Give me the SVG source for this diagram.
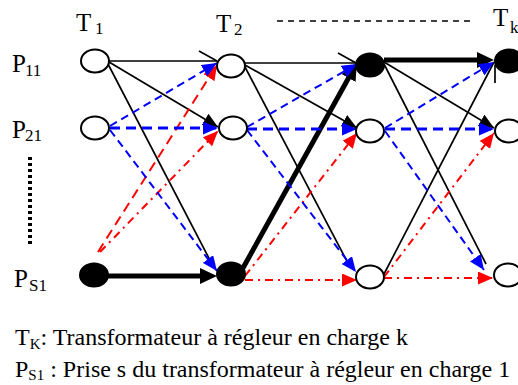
<svg xmlns="http://www.w3.org/2000/svg" width="518" height="385" viewBox="0 0 518 385">
<style>
text{font-family:"Liberation Serif","Times New Roman",serif;fill:#000}
.lbl{font-size:24px}
.big{font-size:25px}
.sub{font-size:15px}
.sub2{font-size:17px}
.node{fill:#fff;stroke:#000;stroke-width:2}
.node.f{fill:#000}
line{fill:none}
.k{stroke:#000;stroke-width:1.7}
.kt{stroke:#000;stroke-width:5}
.b{stroke:#0000ff;stroke-width:2;stroke-dasharray:8 5}
.bh{stroke:#0000ff;stroke-width:3;stroke-dasharray:10 6}
.r{stroke:#ff0000;stroke-width:2;stroke-dasharray:10 6}
.rd{stroke:#ff0000;stroke-width:2;stroke-dasharray:8 5 2 5}
.dk{stroke:#000;stroke-width:1.5;stroke-dasharray:6 5}
.dot{stroke:#000;stroke-width:4;stroke-dasharray:3 3}
</style>
<defs>
<marker id="mk" viewBox="0 0 15 13" refX="15" refY="6.5" markerWidth="15" markerHeight="13" markerUnits="userSpaceOnUse" orient="auto"><path d="M0,0 L15,6.5 L0,13 z" fill="#000"/></marker>
<marker id="mkt" viewBox="0 0 17 16" refX="4" refY="8" markerWidth="17" markerHeight="16" markerUnits="userSpaceOnUse" orient="auto"><path d="M0,0 L17,8 L0,16 z" fill="#000"/></marker>
<marker id="mb" viewBox="0 0 15 13" refX="15" refY="6.5" markerWidth="15" markerHeight="13" markerUnits="userSpaceOnUse" orient="auto"><path d="M0,0 L15,6.5 L0,13 z" fill="#0000ff"/></marker>
<marker id="mr" viewBox="0 0 15 13" refX="15" refY="6.5" markerWidth="15" markerHeight="13" markerUnits="userSpaceOnUse" orient="auto"><path d="M0,0 L15,6.5 L0,13 z" fill="#ff0000"/></marker>
</defs>

<g id="labels">
<text class="big" x="76" y="31">T</text><text class="sub2" x="95" y="34">1</text>
<text class="big" x="216" y="32">T</text><text class="sub2" x="234" y="35">2</text>
<text class="big" x="493" y="26">T</text><text class="sub2" x="510" y="33">k</text>
<line class="dk" x1="277" y1="21" x2="474" y2="21"/>
<text class="big" x="12" y="72">P</text><text class="sub2" x="25" y="76">11</text>
<text class="big" x="12" y="138">P</text><text class="sub2" x="25" y="141">21</text>
<text class="big" x="14" y="287">P</text><text class="sub2" x="29" y="291">S1</text>
<line class="dot" x1="30" y1="157" x2="30" y2="247"/>
</g>

<g id="connectors">
<!-- black thin -->
<line class="k" x1="109" y1="61" x2="217" y2="61"/>
<line class="k" x1="199" y1="51" x2="217" y2="61"/>
<line class="k" x1="109" y1="62" x2="218" y2="127" marker-end="url(#mk)"/>
<line class="k" x1="108" y1="64" x2="213" y2="266"/>
<line class="k" x1="245" y1="63" x2="357" y2="63"/>
<line class="k" x1="338" y1="53" x2="356" y2="63"/>
<line class="k" x1="245" y1="65" x2="357" y2="128" marker-end="url(#mk)"/>
<line class="k" x1="245" y1="67" x2="350" y2="267"/>
<line class="k" x1="384" y1="62" x2="494" y2="128" marker-end="url(#mk)"/>
<line class="k" x1="384" y1="64" x2="486" y2="264"/>
<line class="k" x1="383" y1="276" x2="494" y2="62"/>
<line class="k" x1="495" y1="65" x2="495" y2="83"/>
<!-- black thick -->
<line class="kt" x1="108" y1="276" x2="204" y2="276" marker-end="url(#mkt)"/>
<line class="kt" x1="243" y1="268" x2="350.5" y2="74.5" marker-end="url(#mkt)"/>
<line class="kt" x1="384" y1="60" x2="481" y2="60" marker-end="url(#mkt)"/>
<!-- red -->
<line class="r" x1="98" y1="252" x2="217" y2="65" marker-end="url(#mr)"/>
<line class="rd" x1="100" y1="252" x2="218" y2="131" marker-end="url(#mr)"/>
<line class="rd" x1="245" y1="276" x2="357" y2="133" marker-end="url(#mr)"/>
<line class="rd" x1="245" y1="280" x2="357" y2="280" marker-end="url(#mr)"/>
<line class="rd" x1="384" y1="277" x2="494" y2="133" marker-end="url(#mr)"/>
<line class="rd" x1="384" y1="278" x2="493" y2="278" marker-end="url(#mr)"/>
<!-- blue -->
<line class="b" x1="110" y1="126" x2="217" y2="63" marker-end="url(#mb)"/>
<line class="bh" x1="110" y1="128" x2="218" y2="128" marker-end="url(#mb)"/>
<line class="b" x1="110" y1="130" x2="217" y2="271" marker-end="url(#mb)"/>
<line class="b" x1="247" y1="127" x2="357" y2="64" marker-end="url(#mb)"/>
<line class="bh" x1="247" y1="129" x2="357" y2="129" marker-end="url(#mb)"/>
<line class="b" x1="247" y1="130" x2="356" y2="272" marker-end="url(#mb)"/>
<line class="b" x1="385" y1="128" x2="494" y2="62" marker-end="url(#mb)"/>
<line class="bh" x1="385" y1="129" x2="494" y2="129" marker-end="url(#mb)"/>
<line class="b" x1="385" y1="131" x2="484" y2="270" marker-end="url(#mb)"/>
</g>

<g id="n-1-1"><ellipse class="node" cx="95" cy="61" rx="14" ry="11.5"/></g>
<g id="n-1-2"><ellipse class="node" cx="95" cy="128" rx="14" ry="11.5"/></g>
<g id="n-1-s"><ellipse class="node f" cx="94" cy="275" rx="14" ry="11.5"/></g>
<g id="n-2-1"><ellipse class="node" cx="231" cy="66" rx="14" ry="11.5"/></g>
<g id="n-2-2"><ellipse class="node" cx="233" cy="128" rx="14" ry="11.5"/></g>
<g id="n-2-s"><ellipse class="node f" cx="231" cy="274" rx="14" ry="11.5"/></g>
<g id="n-3-1"><ellipse class="node f" cx="370" cy="65" rx="14" ry="11.5"/></g>
<g id="n-3-2"><ellipse class="node" cx="370" cy="131" rx="14" ry="11.5"/></g>
<g id="n-3-s"><ellipse class="node" cx="370" cy="277" rx="14" ry="11.5"/></g>
<g id="n-4-1"><ellipse class="node f" cx="509" cy="61" rx="14" ry="11.5"/></g>
<g id="n-4-2"><ellipse class="node" cx="509" cy="131" rx="14" ry="11.5"/></g>
<g id="n-4-s"><ellipse class="node" cx="508" cy="275" rx="14" ry="11.5"/></g>

<g id="legend">
<text class="lbl" x="15" y="345">T<tspan class="sub" dy="4">K</tspan><tspan dy="-4">: Transformateur à régleur en charge k</tspan></text>
<text class="lbl" x="15" y="377">P<tspan class="sub" dy="3">S1</tspan><tspan dy="-3"> : Prise s du transformateur à régleur en charge 1</tspan></text>
</g>
</svg>
